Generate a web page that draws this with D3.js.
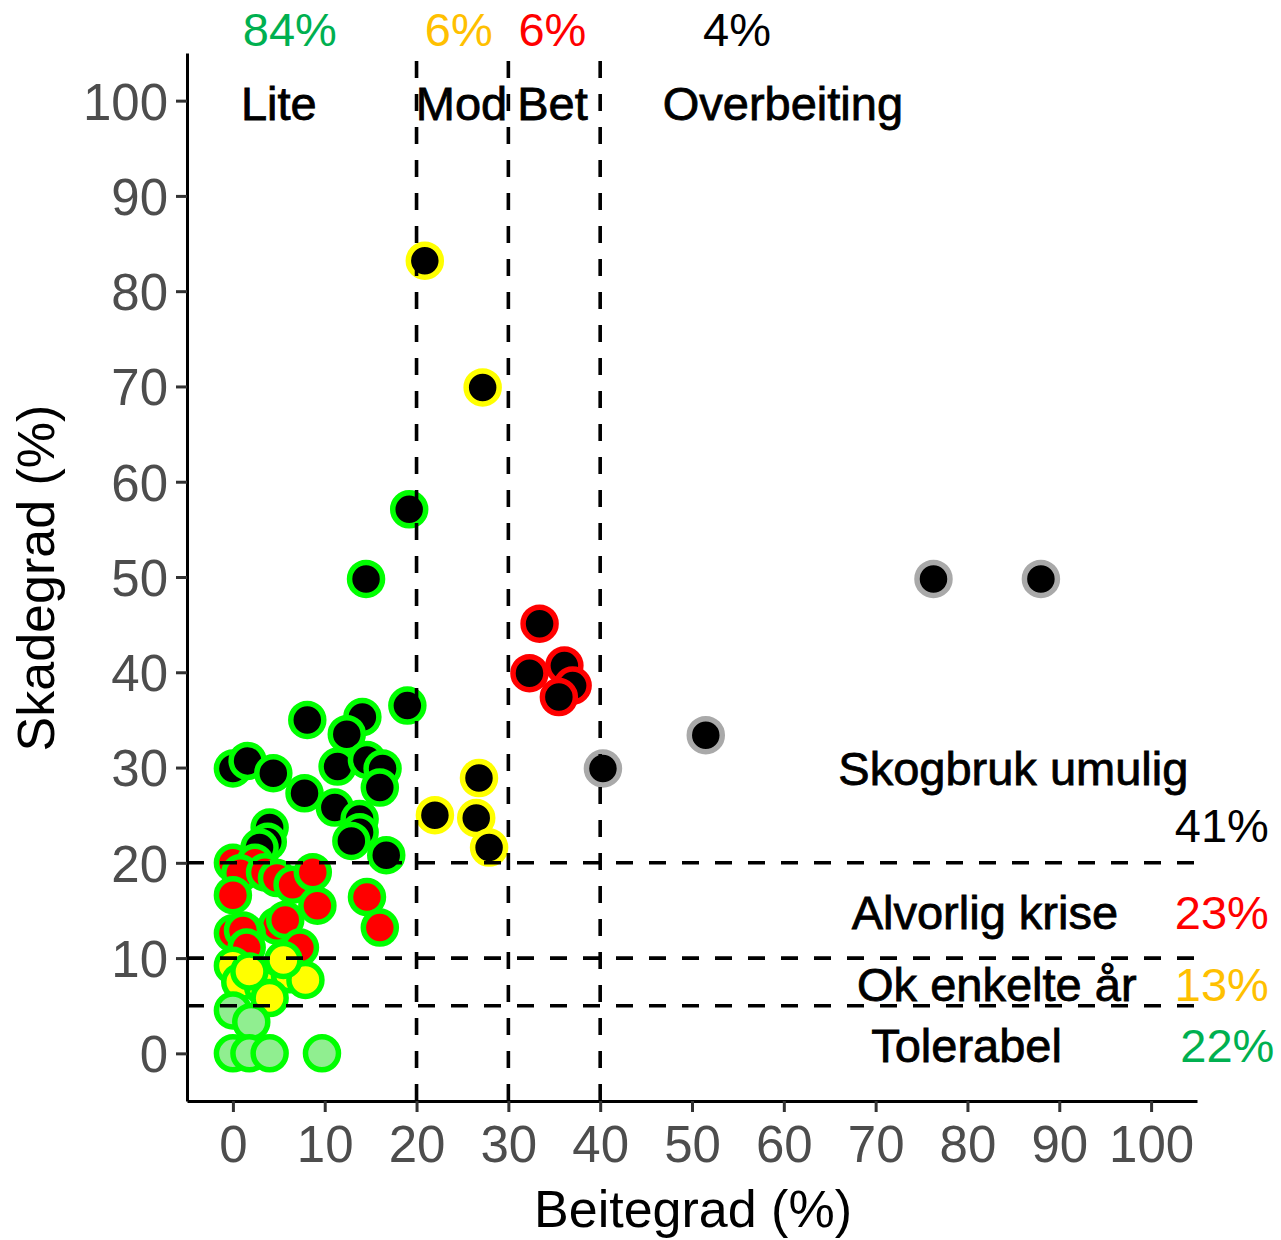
<!DOCTYPE html>
<html>
<head>
<meta charset="utf-8">
<script src="https://cdn.jsdelivr.net/npm/d3@7"></script>
<style>
  html, body { margin: 0; padding: 0; background: #fff; }
  svg { display: block; font-family: "Liberation Sans", Arial, sans-serif; }
</style>
</head>
<body>
<svg id="chart" width="1281" height="1240"></svg>
<script>
// ---- Data ----
// Beitegrad (%) on x, Skadegrad (%) on y
const beitegrad = [
  // Lite, skogbruk umulig
  8.1, 19.0, 14.1, 12.4, 0, 1.6, 4.4, 11.4, 14.6, 16.3, 16.0, 7.8, 11.1, 13.8, 13.8, 12.9, 4.0, 3.8, 2.9, 16.7, 14.5, 19.2,
  // Lite, alvorlig krise
  0, 2.4, 0.8, 3.5, 0, 4.8, 6.5, 8.7, 9.2, 4.8, 5.7, 0, 1.5, 1.1, 1.5, 7.3, 14.6, 16.0,
  // Lite, ok enkelte år
  0, 0.8, 3.3, 6.2, 7.9, 5.5, 4.0, 1.8,
  // Lite, tolerabel
  0, 2.0, 0, 1.8, 4.0, 9.7,
  // Moderat
  20.9, 27.2, 26.8, 22.0, 26.5, 27.9,
  // Betydelig
  33.4, 32.3, 36.1, 37.0, 35.5,
  // Overbeiting
  76.3, 88.0, 51.5, 40.3
];
const skadegrad = [
  35.0, 36.5, 35.3, 33.5, 29.9, 30.7, 29.4, 30.1, 30.8, 29.9, 27.9, 27.3, 25.8, 24.6, 23.2, 22.3, 23.7, 22.2, 21.6, 20.8, 49.8, 57.1,
  20.0, 20.0, 18.9, 19.0, 16.6, 18.4, 17.7, 19.0, 15.5, 13.4, 14.0, 12.6, 12.6, 12.9, 11.1, 11.1, 16.4, 13.2,
  9.2, 7.5, 7.0, 8.3, 7.7, 9.8, 5.8, 8.6,
  4.5, 3.3, 0, 0, 0, 0,
  83.2, 69.9, 28.9, 25.0, 24.7, 21.6,
  45.1, 39.9, 40.7, 38.6, 37.4,
  49.8, 49.8, 33.4, 29.9
];
const tickValues = [0, 10, 20, 30, 40, 50, 60, 70, 80, 90, 100];
const beiteBreaks = [20, 30, 40];
const skadeBreaks = [5, 10, 20];

// class labels and shares
const beiteLabels = ["Lite", "Mod", "Bet", "Overbeiting"];
const beiteShares = ["84%", "6%", "6%", "4%"];
const skadeLabels = ["Skogbruk umulig", "Alvorlig krise", "Ok enkelte år", "Tolerabel"];
const skadeShares = ["41%", "23%", "13%", "22%"];

// ---- Styles / layout ----
const shareColors = ["#00B050", "#FFC000", "#FF0000", "#000000"];
const skadeShareColors = ["#000000", "#FF0000", "#FFC000", "#00B050"];
const ringColor = x => x < 20 ? "#00FF00" : x < 30 ? "#FFFF00" : x < 40 ? "#FF0000" : "#A9A9A9";
const fillColor = y => y > 20 ? "#000000" : y >= 10 ? "#FF0000" : y >= 5 ? "#FFFF00" : "#90EE90";

const svg = d3.select("#chart");
const x = d3.scaleLinear().domain([-5, 105]).range([187, 1197]);
const y = d3.scaleLinear().domain([-5, 105]).range([1101, 53]);

// points
const pts = beitegrad.map((b, i) => ({ b, s: skadegrad[i] }));
svg.append("g").selectAll("circle").data(pts).join("circle")
  .attr("cx", d => x(d.b)).attr("cy", d => y(d.s)).attr("r", 16.5)
  .attr("fill", d => fillColor(d.s))
  .attr("stroke", d => ringColor(d.b))
  .attr("stroke-width", 5.5);

// dashed reference lines (drawn over points)
const dash = "17,16";
svg.append("g").selectAll("line").data(beiteBreaks).join("line")
  .attr("x1", d => x(d)).attr("x2", d => x(d))
  .attr("y1", y(-5)).attr("y2", y(105))
  .attr("stroke", "#000").attr("stroke-width", 3.6).attr("stroke-dasharray", dash);
svg.append("g").selectAll("line").data(skadeBreaks).join("line")
  .attr("x1", x(-5)).attr("x2", x(105))
  .attr("y1", d => y(d)).attr("y2", d => y(d))
  .attr("stroke", "#000").attr("stroke-width", 3.6).attr("stroke-dasharray", dash);

// axes
const xAxis = svg.append("g").attr("transform", `translate(0,${y(-5)})`)
  .call(d3.axisBottom(x).tickValues(tickValues).tickSize(11).tickSizeOuter(0).tickPadding(14));
const yAxis = svg.append("g").attr("transform", `translate(${x(-5)},0)`)
  .call(d3.axisLeft(y).tickValues(tickValues).tickSize(11).tickSizeOuter(0).tickPadding(8));
[xAxis, yAxis].forEach(g => {
  g.select(".domain").attr("stroke", "#000").attr("stroke-width", 3);
  g.selectAll(".tick line").attr("stroke", "#333").attr("stroke-width", 3);
  g.selectAll(".tick text").attr("fill", "#4D4D4D").attr("font-size", 51)
    .attr("font-family", "Liberation Sans, Arial, sans-serif");
});
xAxis.selectAll(".tick text").attr("dy", "0.71em");
yAxis.selectAll(".tick text").attr("dy", "0.36em");

// axis titles
svg.append("text").attr("x", 693).attr("y", 1227).attr("text-anchor", "middle")
  .attr("font-size", 52).attr("fill", "#000").text("Beitegrad (%)");
svg.append("text").attr("transform", "translate(54,578) rotate(-90)")
  .attr("text-anchor", "middle").attr("font-size", 52).attr("fill", "#000").text("Skadegrad (%)");

// top annotations (positions in data units)
const topX = [6.2, 24.6, 34.8, 54.9];
const labelX = [5.0, 24.9, 34.8, 59.9];
svg.append("g").selectAll("text").data(beiteShares).join("text")
  .attr("x", (d, i) => x(topX[i])).attr("y", y(105.7))
  .attr("text-anchor", "middle").attr("font-size", 47)
  .attr("fill", (d, i) => shareColors[i]).text(d => d);
svg.append("g").selectAll("text").data(beiteLabels).join("text")
  .attr("x", (d, i) => x(labelX[i])).attr("y", y(98.0))
  .attr("text-anchor", "middle").attr("font-size", 47)
  .attr("fill", "#000").attr("stroke", "#000").attr("stroke-width", 0.8).text(d => d);

// right annotations
const skadeLabelX = [85.0, 81.9, 83.2, 79.9];
const skadeLabelY = [28.2, 13.1, 5.5, -0.9];
const skadeShareX = [107.7, 107.7, 107.7, 108.3];
const skadeShareY = [22.2, 13.1, 5.5, -0.9];
svg.append("g").selectAll("text").data(skadeLabels).join("text")
  .attr("x", (d, i) => x(skadeLabelX[i])).attr("y", (d, i) => y(skadeLabelY[i]))
  .attr("text-anchor", "middle").attr("font-size", 47)
  .attr("fill", "#000").attr("stroke", "#000").attr("stroke-width", 0.8).text(d => d);
svg.append("g").selectAll("text").data(skadeShares).join("text")
  .attr("x", (d, i) => x(skadeShareX[i])).attr("y", (d, i) => y(skadeShareY[i]))
  .attr("text-anchor", "middle").attr("font-size", 47)
  .attr("fill", (d, i) => skadeShareColors[i]).text(d => d);
</script>
</body>
</html>
